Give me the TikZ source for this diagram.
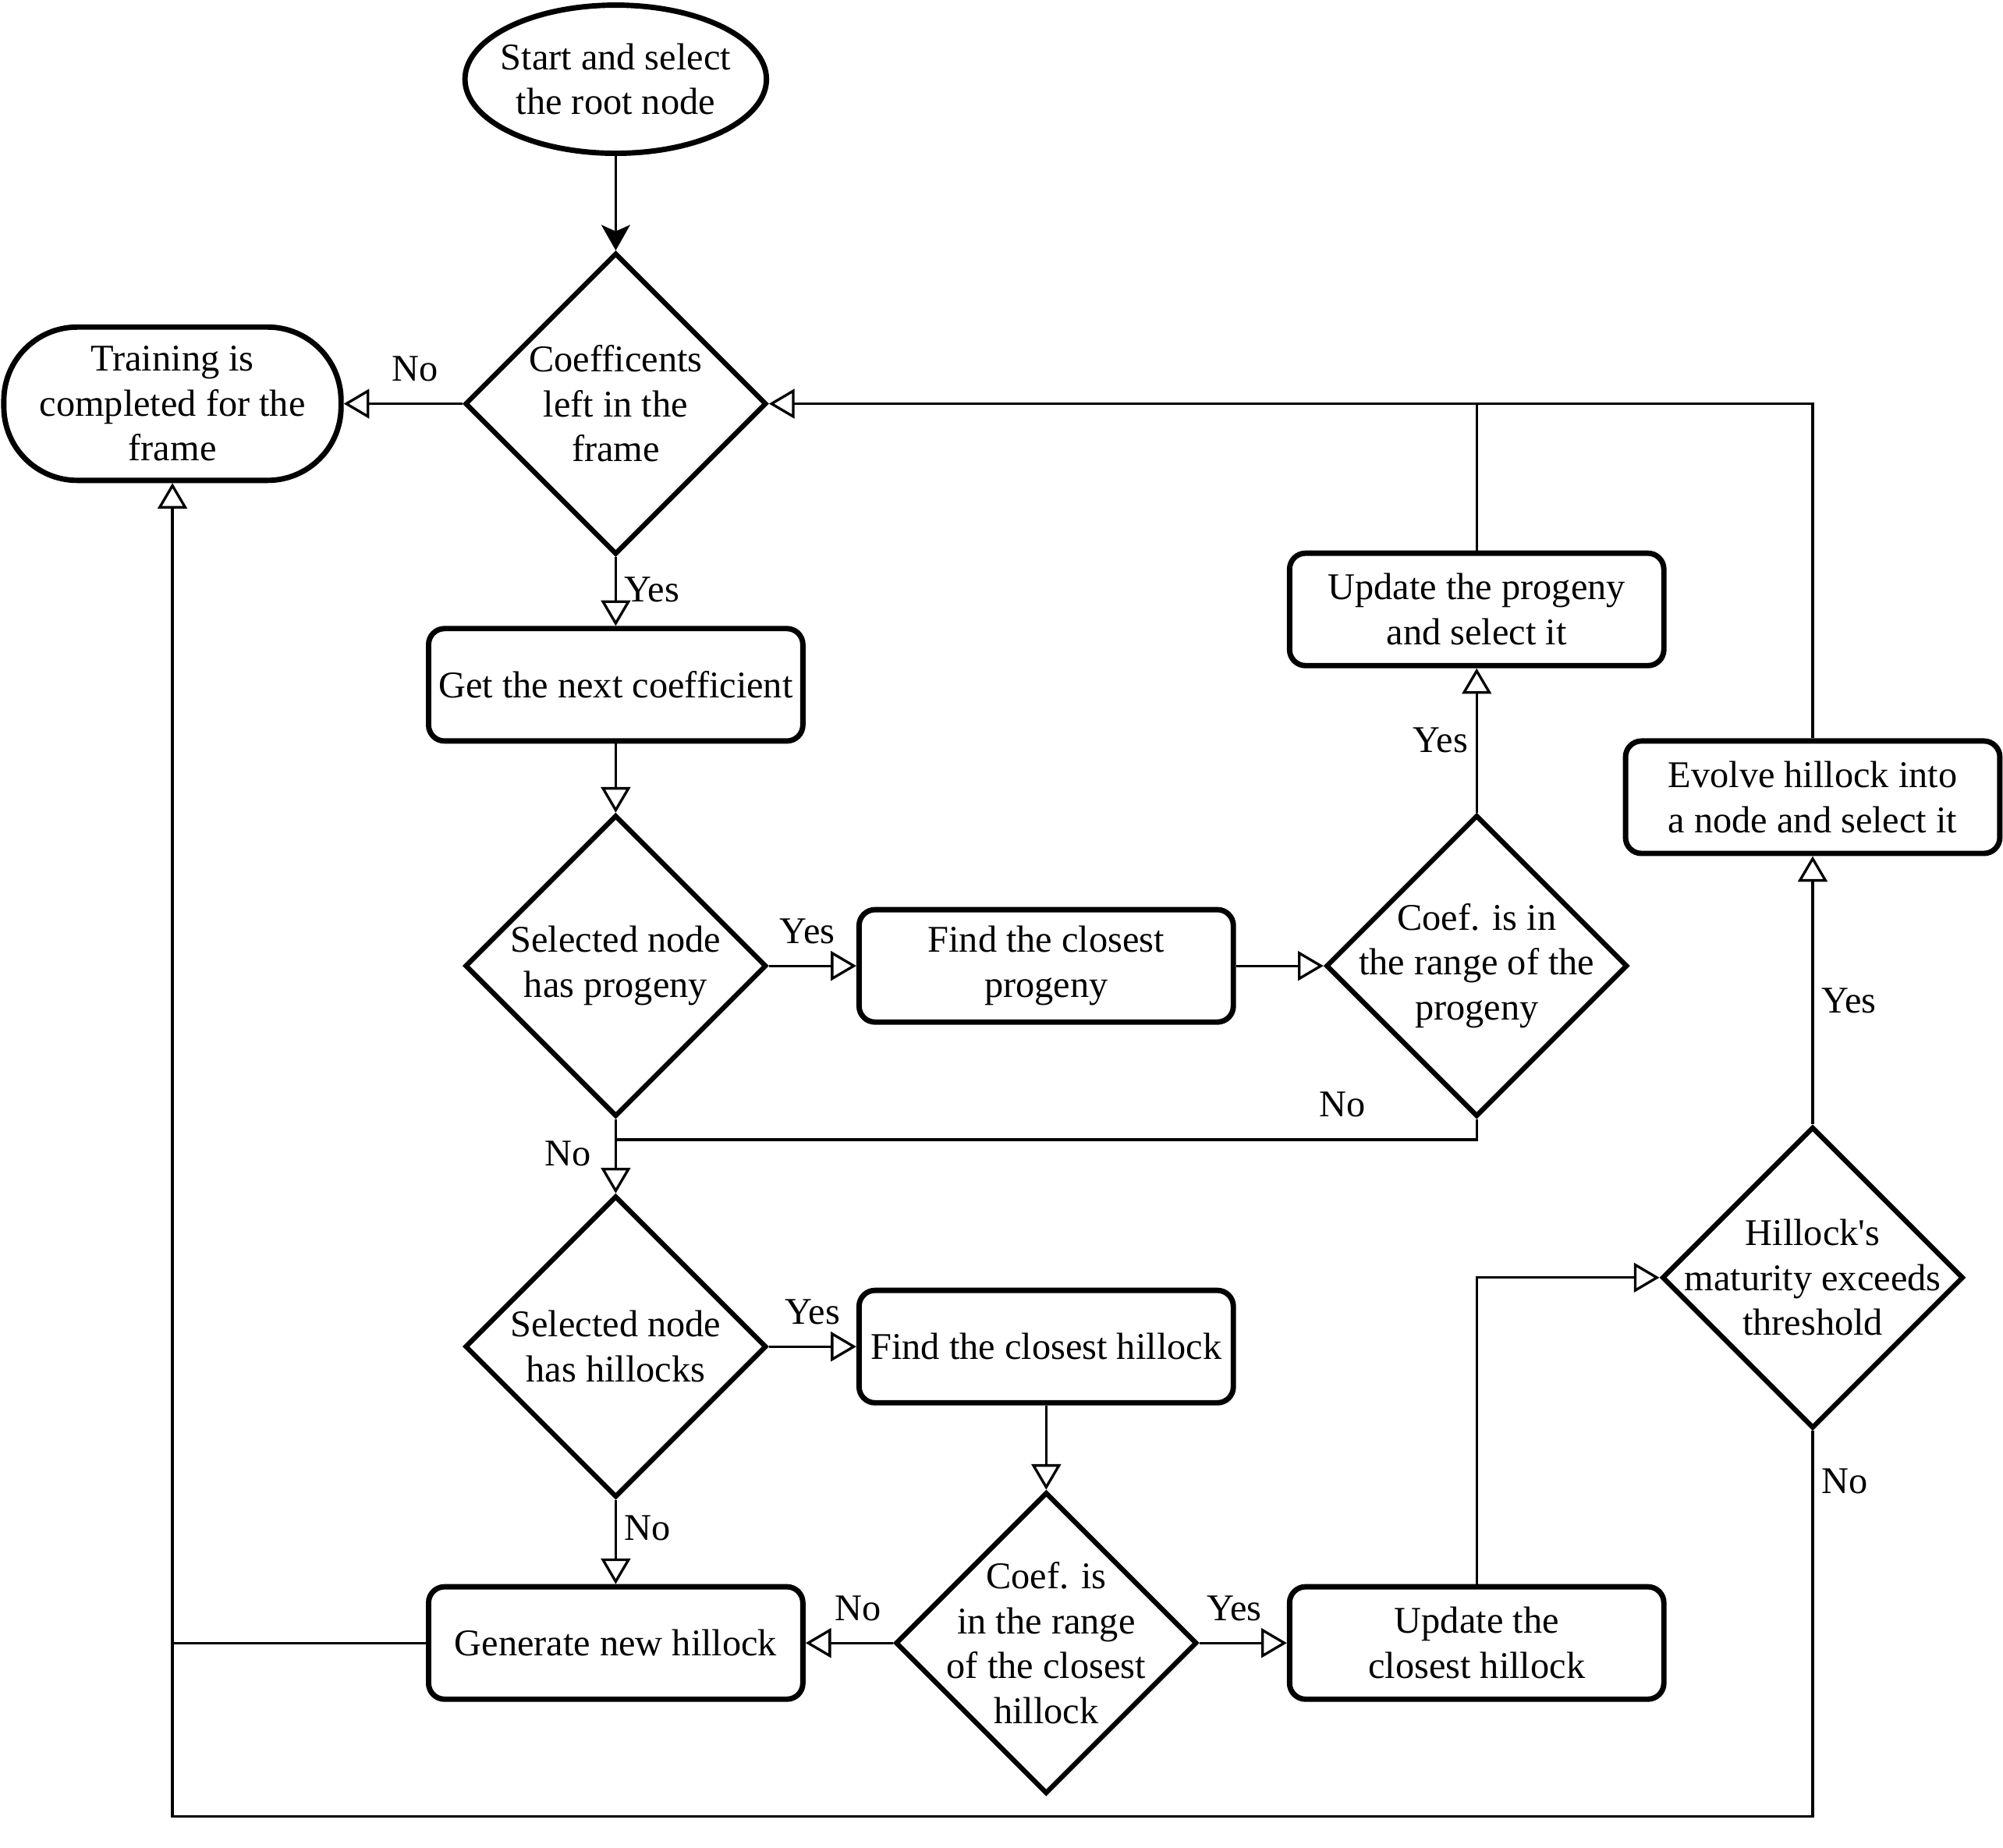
\documentclass[tikz,border=0pt]{standalone}
\usepackage{fontspec}
\setmainfont{Liberation Serif}
\usetikzlibrary{shapes.geometric,arrows.meta}

\begin{document}
\begin{tikzpicture}[node distance=4.4cm, font=\fontsize{16.8}{20}\selectfont]
    \tikzstyle{startstop} = [ellipse, draw, line width=2.4pt, minimum width=4.72cm, minimum height=2.32cm, inner sep=0pt]
    \tikzstyle{endstop} = [rectangle, draw, rounded corners=1.15cm, line width=2.4pt, minimum width=5.28cm, minimum height=2.4cm, align=center]
    \tikzstyle{process} = [rectangle, draw, rounded corners=0.25cm, line width=2.4pt, minimum width=5.86cm, minimum height=1.76cm, inner sep=2pt, align=center]
    \tikzstyle{decision} = [diamond, draw, line width=2.2pt, minimum width=4.72cm, minimum height=4.72cm, inner sep=0pt]
    \tikzstyle{line} = [line width=1.15pt]
    \tikzstyle{arrow} = [line, -{Triangle[open, length=0.4cm, width=0.46cm]}]
    \tikzstyle{lbl} = [above, yshift=6pt]

    \useasboundingbox (-9.64,1.24) rectangle (21.72,-27.68);

    \node [startstop, label={[align=center]center:Start and select\\the root node}] (start) {};
    \node [decision, below of=start, node distance=5.08cm, label={[align=center]center:Coefficents\\left in the\\frame}] (d1) {};
    \node [endstop, left of=d1, node distance=6.94cm] (train) {Training is\\completed for the\\frame};
    \node [process, below of=d1] (next) {Get the next coefficient};
    \node [decision, below of=next, label={[align=center]center:Selected node\\has progeny}] (d2) {};
    \node [process, right of=d2, node distance=6.74cm] (findprog) {Find the closest\\progeny};
    \node [decision, right of=findprog, node distance=6.74cm, label={[align=center]center:Coef. is in\\the range of the\\progeny}] (d3) {};
    \node [process, above of=d3, node distance=5.58cm] (updprog) {Update the progeny\\and select it};
    \coordinate [below of=d2, node distance=2.72cm] (join);
    \node [decision, below of=d2, node distance=5.96cm, label={[align=center]center:Selected node\\has hillocks}] (d4) {};
    \node [process, right of=d4, node distance=6.74cm] (findhill) {Find the closest hillock};
    \node [decision, below of=findhill, node distance=4.64cm, label={[align=center]center:Coef. is\\in the range\\of the closest\\hillock}] (d5) {};
    \node [process, left of=d5, node distance=6.74cm] (newhill) {Generate new hillock};
    \node [process, right of=d5, node distance=6.74cm] (updhill) {Update the\\closest hillock};
    \node [decision, right of=d3, node distance=5.26cm, yshift=-4.88cm, label={[align=center]center:Hillock\textquotesingle s\\maturity exceeds\\threshold}] (d6) {};
    \node [process, above of=d6, node distance=7.52cm] (evolve) {Evolve hillock into\\a node and select it};

    \draw [line, -{Stealth[length=0.4cm, width=0.45cm, inset=0.1cm]}] (start) -- (d1);
    \draw [arrow] (d1) -- node[lbl, pos=0.4] {No} (train);
    \draw [arrow] (d1) -- node[right, pos=0.47] {Yes} (next);
    \draw [arrow] (next) -- (d2);
    \draw [arrow] (d2) -- node[lbl, pos=0.44] {Yes} (findprog);
    \draw [arrow] (findprog) -- (d3);
    \draw [arrow] (d3) -- node[left, pos=0.5] {Yes} (updprog);
    \draw [line] (updprog) -- (updprog |- d1);
    \draw [arrow] (evolve) |- (d1);
    \draw [arrow] (d2) -- node[left, pos=0.47, xshift=-0.25cm] {No} (d4);
    \draw [line] (d3) |- node[lbl, pos=0.578] {No} (join);
    \draw [arrow] (d4) -- node[lbl, pos=0.5] {Yes} (findhill);
    \draw [arrow] (d4) -- node[right, pos=0.34] {No} (newhill);
    \draw [arrow] (findhill) -- (d5);
    \draw [arrow] (d5) -- node[lbl, pos=0.4] {No} (newhill);
    \draw [arrow] (d5) -- node[lbl, pos=0.4] {Yes} (updhill);
    \draw [arrow] (updhill) |- (d6);
    \draw [arrow] (d6) -- node[right, pos=0.46] {Yes} (evolve);
    \draw [arrow] (d6.south) -- node[right, pos=0.13] {No} ++(0,-6.04) -| (train);
    \draw [line] (newhill) -- (newhill -| train);
\end{tikzpicture}
\end{document}
